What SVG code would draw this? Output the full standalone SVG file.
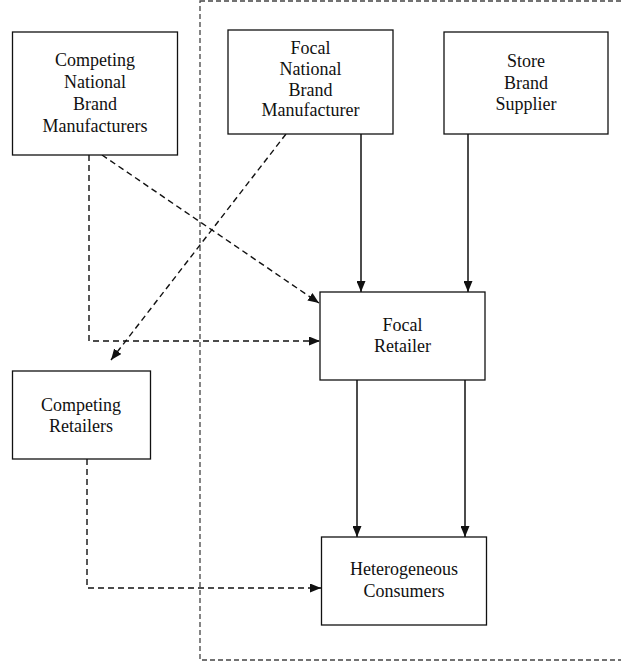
<svg xmlns="http://www.w3.org/2000/svg" width="621" height="666" viewBox="0 0 621 666">
<style>
.box{fill:#fff;stroke:#111;stroke-width:1.3}
.t{font-family:'Liberation Serif','Times New Roman','DejaVu Serif',serif;font-size:18px;fill:#111;text-anchor:middle}
.dash{fill:none;stroke:#111;stroke-width:1.4;stroke-dasharray:6,4}
.solid{fill:none;stroke:#111;stroke-width:1.5}
.bound{fill:none;stroke:#444;stroke-width:1.3;stroke-dasharray:5,3}
</style>
<defs>
<marker id="ah" viewBox="0 0 11 9" refX="11" refY="4.5" markerWidth="11" markerHeight="9" markerUnits="userSpaceOnUse" orient="auto">
<path d="M0,0 L11,4.5 L0,9 Z" fill="#111"/>
</marker>
</defs>
<rect id="boundary" class="bound" x="200" y="1" width="430" height="659"/>
<g id="connectors">
<path class="dash" d="M102,155 L319,303" marker-end="url(#ah)"/>
<path class="dash" d="M89,155 L89,341 L320,341" marker-end="url(#ah)"/>
<path class="dash" d="M286,134 L111,360" marker-end="url(#ah)"/>
<path class="solid" d="M361,134 L361,292" marker-end="url(#ah)"/>
<path class="solid" d="M468,134 L468,292" marker-end="url(#ah)"/>
<path class="solid" d="M357,380 L357,537" marker-end="url(#ah)"/>
<path class="solid" d="M465,380 L465,537" marker-end="url(#ah)"/>
<path class="dash" d="M87,459 L87,588 L321,588" marker-end="url(#ah)"/>
</g>
<g id="competing-nbm">
<rect class="box" x="12.5" y="32" width="165" height="123"/>
<text class="t" x="95" y="66">Competing</text>
<text class="t" x="95" y="88">National</text>
<text class="t" x="95" y="110">Brand</text>
<text class="t" x="95" y="132">Manufacturers</text>
</g>
<g id="focal-nbm">
<rect class="box" x="228" y="30" width="165" height="104"/>
<text class="t" x="310.5" y="54">Focal</text>
<text class="t" x="310.5" y="75">National</text>
<text class="t" x="310.5" y="95.5">Brand</text>
<text class="t" x="310.5" y="116">Manufacturer</text>
</g>
<g id="store-brand">
<rect class="box" x="444" y="32" width="164" height="102"/>
<text class="t" x="526" y="67">Store</text>
<text class="t" x="526" y="89">Brand</text>
<text class="t" x="526" y="110">Supplier</text>
</g>
<g id="focal-retailer">
<rect class="box" x="320" y="292" width="165" height="88"/>
<text class="t" x="402.5" y="331">Focal</text>
<text class="t" x="402.5" y="352">Retailer</text>
</g>
<g id="competing-retailers">
<rect class="box" x="12.5" y="371" width="138" height="88"/>
<text class="t" x="81" y="411">Competing</text>
<text class="t" x="81" y="432">Retailers</text>
</g>
<g id="consumers">
<rect class="box" x="321.5" y="537" width="165" height="88"/>
<text class="t" x="404" y="575">Heterogeneous</text>
<text class="t" x="404" y="597">Consumers</text>
</g>
</svg>
